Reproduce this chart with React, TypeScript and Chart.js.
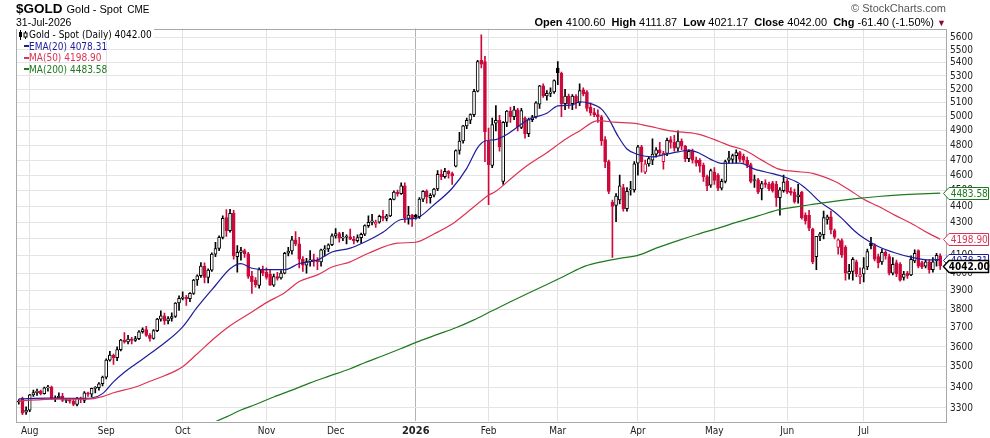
import React, { useEffect, useRef } from 'react';
import { Chart, registerables } from 'chart.js';

Chart.register(...registerables);

const FONT = "'DejaVu Sans Condensed', 'DejaVu Sans', sans-serif";
const HFONT = "'Liberation Sans', Arial, sans-serif";

const RED = '#cc0a3c';
const BLACK = '#000000';
const EMA_COLOR = '#1d1d9b';
const MA50_COLOR = '#dd3355';
const MA200_COLOR = '#1e7a1e';

// x-axis: trading-day index; first trading day of each month
const monthStarts = [3, 24, 45, 68, 87, 109, 129, 148, 170, 191, 211, 232];
const monthLabels = ['Aug', 'Sep', 'Oct', 'Nov', 'Dec', '2026', 'Feb', 'Mar', 'Apr', 'May', 'Jun', 'Jul'];
const yTicks = [3300, 3400, 3500, 3600, 3700, 3800, 3900, 4000, 4100, 4200, 4300, 4400, 4500, 4600, 4700, 4800, 4900, 5000, 5100, 5200, 5300, 5400, 5500, 5600];

// Daily OHLC, 29-Jul-2025 .. 31-Jul-2026 (one line per month)
const opens = [
  3328, 3345, 3280,
  3290, 3362, 3373, 3380, 3368, 3396, 3400, 3343, 3348, 3356, 3335, 3338, 3332, 3316, 3347, 3335, 3372, 3365, 3393, 3397, 3416,
  3448, 3533, 3559, 3545, 3586, 3636, 3626, 3641, 3634, 3643, 3679, 3690, 3660, 3644, 3685, 3746, 3763, 3736, 3749, 3760, 3833,
  3858, 3866, 3857, 3886, 3961, 3985, 4040, 3976, 4017, 4110, 4143, 4209, 4330, 4250, 4356, 4095, 4120, 4130, 4112, 3981, 3960, 3930, 4020,
  4005, 3995, 3932, 3980, 3972, 4000, 4115, 4128, 4194, 4170, 4080, 4045, 4066, 4077, 4072, 4065, 4135, 4140, 4165,
  4218, 4232, 4205, 4210, 4212, 4198, 4189, 4208, 4228, 4280, 4300, 4290, 4302, 4338, 4325, 4340, 4444, 4490, 4480, 4530, 4325, 4345,
  4345, 4335, 4445, 4495, 4455, 4470, 4510, 4605, 4590, 4625, 4610, 4660, 4765, 4830, 4935, 4975, 5015, 5185, 5420, 5410,
  4830, 4665, 4955, 4975, 4560, 4960, 5040, 5000, 5050, 4925, 4990, 4880, 4980, 5000, 5090, 5225, 5150, 5170, 5180,
  5360, 5320, 5095, 5150, 5095, 5150, 5100, 5195, 5180, 5070, 5030, 5015, 5000, 4840, 4690, 4425, 4405, 4440, 4520, 4385, 4505, 4505,
  4680, 4790, 4620, 4675, 4700, 4740, 4770, 4690, 4745, 4840, 4820, 4780, 4830, 4795, 4710, 4760, 4700, 4700, 4665, 4590, 4535,
  4620, 4600, 4515, 4560, 4700, 4705, 4730, 4750, 4725, 4700, 4670, 4565, 4570, 4510, 4550, 4540, 4550, 4540, 4455, 4500,
  4560, 4495, 4490, 4460, 4490, 4345, 4345, 4260, 4095, 4215, 4225, 4318, 4335, 4250, 4150, 4190, 4150, 3995, 4010, 4065, 3978,
  3995, 4035, 4175, 4160, 4095, 4065, 4120, 4095, 4000, 4060, 4050, 3975, 4000, 3990, 4070, 4130, 4060, 4040, 4065, 4020, 4070, 4100.6,
];
const highs = [
  3340, 3352, 3305,
  3365, 3385, 3390, 3385, 3400, 3408, 3404, 3358, 3372, 3370, 3346, 3345, 3340, 3350, 3352, 3378, 3376, 3395, 3402, 3422, 3453,
  3540, 3578, 3563, 3600, 3640, 3674, 3660, 3650, 3655, 3685, 3700, 3707, 3670, 3690, 3750, 3790, 3778, 3760, 3780, 3835, 3872,
  3895, 3875, 3890, 3965, 3990, 4060, 4059, 4025, 4118, 4180, 4218, 4340, 4380, 4381, 4375, 4160, 4150, 4140, 4120, 4010, 3975, 4030, 4040,
  4030, 4020, 3995, 4005, 4015, 4120, 4150, 4215, 4245, 4210, 4095, 4085, 4130, 4110, 4090, 4140, 4160, 4170, 4230,
  4262, 4240, 4240, 4225, 4260, 4215, 4225, 4235, 4285, 4340, 4350, 4315, 4345, 4375, 4350, 4450, 4498, 4503, 4550, 4550, 4400, 4350,
  4350, 4455, 4500, 4505, 4480, 4515, 4630, 4635, 4645, 4630, 4620, 4770, 4890, 4940, 4990, 5020, 5200, 5420, 5620, 5450,
  4920, 4990, 5080, 5010, 4965, 5045, 5070, 5075, 5060, 5060, 5000, 4990, 5010, 5110, 5230, 5240, 5190, 5210, 5270,
  5410, 5330, 5200, 5165, 5160, 5160, 5240, 5210, 5190, 5100, 5060, 5050, 5010, 4860, 4700, 4440, 4480, 4600, 4540, 4520, 4560, 4690,
  4800, 4800, 4700, 4720, 4845, 4785, 4820, 4760, 4850, 4860, 4870, 4900, 4845, 4800, 4770, 4775, 4720, 4710, 4680, 4600, 4640,
  4650, 4610, 4575, 4700, 4760, 4740, 4770, 4760, 4740, 4720, 4680, 4600, 4580, 4560, 4570, 4555, 4560, 4560, 4520, 4600,
  4575, 4520, 4510, 4540, 4495, 4360, 4375, 4265, 4215, 4240, 4370, 4345, 4370, 4260, 4200, 4200, 4160, 4050, 4090, 4075, 4030,
  4090, 4140, 4210, 4170, 4110, 4140, 4130, 4110, 4090, 4075, 4060, 4010, 4010, 4100, 4135, 4135, 4070, 4075, 4075, 4090, 4115, 4111.87,
];
const lows = [
  3318, 3268, 3270,
  3282, 3355, 3360, 3362, 3365, 3380, 3340, 3330, 3345, 3330, 3325, 3322, 3311, 3310, 3325, 3325, 3355, 3352, 3372, 3385, 3405,
  3440, 3528, 3511, 3530, 3580, 3620, 3615, 3615, 3628, 3638, 3672, 3655, 3630, 3640, 3680, 3735, 3718, 3720, 3735, 3755, 3792,
  3850, 3820, 3840, 3880, 3930, 3975, 3945, 3945, 4010, 4095, 4130, 4200, 4215, 4240, 4080, 4005, 4075, 4090, 3970, 3886, 3920, 3915, 3985,
  3965, 3930, 3925, 3960, 3965, 3995, 4100, 4110, 4160, 4030, 4010, 4000, 4040, 4040, 4020, 4040, 4100, 4125, 4160,
  4205, 4180, 4190, 4170, 4195, 4170, 4180, 4175, 4220, 4270, 4285, 4270, 4295, 4310, 4310, 4335, 4440, 4465, 4475, 4300, 4290, 4275,
  4320, 4325, 4430, 4420, 4420, 4460, 4500, 4570, 4580, 4580, 4540, 4655, 4740, 4815, 4915, 4950, 5000, 5180, 5360, 4690,
  4410, 4650, 4900, 4760, 4540, 4930, 4960, 4980, 4900, 4915, 4850, 4860, 4965, 4990, 5060, 5140, 5120, 5145, 5170,
  5235, 5000, 5050, 5060, 5050, 5060, 5080, 5150, 5040, 5010, 5000, 4960, 4800, 4650, 4480, 4090, 4305, 4415, 4370, 4370, 4470, 4490,
  4600, 4620, 4610, 4660, 4670, 4720, 4730, 4640, 4730, 4780, 4760, 4760, 4770, 4690, 4690, 4680, 4660, 4620, 4560, 4500, 4520,
  4540, 4500, 4505, 4550, 4680, 4680, 4680, 4690, 4680, 4650, 4550, 4520, 4480, 4440, 4520, 4500, 4490, 4400, 4345, 4490,
  4480, 4470, 4420, 4420, 4320, 4290, 4250, 4055, 4020, 4190, 4200, 4290, 4230, 4200, 4110, 4090, 3960, 3965, 3960, 3980, 3940,
  3950, 4020, 4140, 4070, 4030, 4050, 4080, 3990, 3990, 3980, 3955, 3960, 3970, 3985, 4060, 4030, 4025, 4030, 4000, 4005, 4040, 4021.17,
];
const closes = [
  3330, 3275, 3290,
  3362, 3373, 3380, 3368, 3396, 3400, 3345, 3348, 3356, 3335, 3338, 3332, 3316, 3347, 3340, 3372, 3365, 3393, 3397, 3416, 3448,
  3533, 3559, 3545, 3586, 3636, 3626, 3641, 3634, 3643, 3679, 3690, 3660, 3644, 3685, 3746, 3763, 3736, 3749, 3760, 3833, 3858,
  3866, 3857, 3886, 3961, 3985, 4040, 3976, 4017, 4110, 4143, 4209, 4326, 4250, 4356, 4100, 4120, 4130, 4112, 3981, 3952, 3935, 4020, 4000,
  3975, 3932, 3980, 3970, 4000, 4115, 4128, 4194, 4170, 4080, 4045, 4066, 4077, 4072, 4065, 4135, 4140, 4165, 4218,
  4232, 4205, 4210, 4212, 4198, 4189, 4208, 4228, 4280, 4300, 4310, 4302, 4338, 4325, 4340, 4444, 4490, 4480, 4530, 4330, 4345, 4325,
  4332, 4445, 4495, 4460, 4470, 4510, 4605, 4590, 4625, 4610, 4595, 4765, 4830, 4935, 4975, 5015, 5185, 5410, 5390, 4895,
  4670, 4945, 4975, 4790, 4960, 5040, 5000, 5050, 4930, 5045, 4880, 4980, 5000, 5100, 5225, 5150, 5170, 5180, 5265,
  5325, 5095, 5150, 5095, 5150, 5100, 5190, 5165, 5060, 5030, 5015, 5000, 4830, 4690, 4495, 4400, 4465, 4530, 4385, 4495, 4510, 4675,
  4790, 4690, 4675, 4710, 4740, 4770, 4750, 4745, 4835, 4820, 4780, 4830, 4795, 4710, 4760, 4700, 4680, 4660, 4590, 4530, 4630,
  4565, 4515, 4560, 4690, 4715, 4730, 4750, 4705, 4700, 4670, 4560, 4570, 4490, 4545, 4540, 4510, 4500, 4455, 4505, 4555,
  4490, 4485, 4430, 4472, 4330, 4310, 4265, 4065, 4215, 4230, 4330, 4335, 4255, 4210, 4195, 4105, 4000, 4010, 4080, 3995, 3992,
  4030, 4125, 4160, 4080, 4060, 4120, 4100, 4000, 4050, 3995, 3960, 3995, 3985, 4080, 4115, 4040, 4035, 4065, 4020, 4065, 4103.4, 4042,
];

// Indicator lines: [trading-day index, value]
const ema20 = [
  [0, 3343], [8, 3346], [17, 3345], [20, 3347], [23, 3368], [26, 3425], [29, 3472], [32, 3512], [36, 3565], [40, 3620],
  [45, 3705], [49, 3810], [54, 3930], [58, 4025], [61, 4055], [64, 4028], [68, 4020], [73, 4020], [77, 4055], [82, 4075],
  [86, 4122], [91, 4145], [96, 4192], [100, 4240], [105, 4318], [109, 4325], [114, 4410], [119, 4515], [123, 4645], [126, 4785],
  [128, 4830], [131, 4840], [134, 4875], [136, 4910], [140, 4980], [145, 5025], [148, 5078], [152, 5085], [154, 5108], [157, 5095],
  [160, 5055], [162, 4985], [164.5, 4865], [167, 4775], [170, 4738], [174, 4722], [177, 4735], [181, 4755], [184, 4768], [187, 4745],
  [190, 4705], [193, 4678], [198, 4680], [202, 4640], [207, 4610], [210, 4590], [214, 4550], [217, 4495], [220, 4428], [224, 4365],
  [226, 4325], [229.5, 4248], [232, 4205], [236, 4155], [240.5, 4118], [245, 4092], [250, 4076], [253, 4078.31],
];
const ma50 = [
  [0, 3333], [10, 3342], [19, 3342], [23, 3354], [26, 3372], [32, 3400], [36, 3428], [40, 3455], [45, 3500], [49, 3565],
  [54, 3650], [58, 3710], [64, 3784], [68, 3835], [73, 3890], [77, 3952], [82, 3990], [86, 4035], [91, 4065], [96, 4115],
  [104, 4175], [109, 4180], [114, 4230], [119, 4290], [123, 4360], [129, 4470], [131, 4495], [136, 4595], [140, 4670], [145, 4750],
  [150, 4840], [154, 4900], [159, 4972], [163.5, 4962], [170, 4950], [175, 4922], [179, 4900], [186.5, 4878], [192.5, 4825], [195, 4800],
  [199.5, 4765], [204, 4700], [208.5, 4642], [213, 4625], [218, 4612], [224, 4560], [228, 4505], [232, 4445], [236, 4400], [240.5, 4345],
  [245, 4295], [249.7, 4235], [253, 4198.9],
];
const ma200 = [
  [52, 3222], [54, 3236], [57, 3258], [61, 3290], [65, 3316], [70, 3352], [75, 3385], [80, 3420], [85, 3452], [91, 3490],
  [95, 3520], [100, 3555], [105, 3592], [110, 3630], [115, 3665], [120, 3700], [125, 3742], [129.4, 3785], [135, 3840], [140, 3888],
  [145, 3936], [150, 3985], [155.5, 4040], [160, 4065], [165, 4085], [170, 4103], [175, 4145], [181, 4190], [186, 4225], [192.5, 4268],
  [197, 4300], [203, 4340], [208.5, 4378], [213, 4395], [217.3, 4410], [223.3, 4430], [230.5, 4450], [236, 4462], [242, 4472], [248, 4479],
  [253, 4483.58],
];

const lastClose = 4042.0;
const lastEma = 4078.31;
const lastMa50 = 4198.9;
const lastMa200 = 4483.58;

const framePlugin = {
  id: 'frame',
  afterDatasetsDraw(chart: any) {
    const { ctx, chartArea } = chart;
    ctx.save();
    ctx.strokeStyle = '#a8a8a8';
    ctx.lineWidth = 1;
    ctx.strokeRect(Math.round(chartArea.left) + 0.5, Math.round(chartArea.top) + 0.5,
      Math.round(chartArea.right - chartArea.left), Math.round(chartArea.bottom - chartArea.top));
    ctx.restore();
  },
};

const tagPlugin = {
  id: 'tags',
  afterDraw(chart: any) {
    const { ctx, chartArea } = chart;
    const ys = chart.scales.y;
    const tags = [
      { v: lastMa200, color: MA200_COLOR, bold: false },
      { v: lastMa50, color: MA50_COLOR, bold: false },
      { v: lastEma, color: EMA_COLOR, bold: false },
      { v: lastClose, color: BLACK, bold: true },
    ];
    ctx.save();
    tags.forEach((t) => {
      const py = Math.round(ys.getPixelForValue(t.v)) + 0.5;
      const x0 = chartArea.right - 2.5;
      const x1 = x0 + 5.5;
      const x2 = 988.5;
      const h = 12;
      ctx.beginPath();
      ctx.moveTo(x0, py);
      ctx.lineTo(x1, py - h / 2);
      ctx.lineTo(x2, py - h / 2);
      ctx.lineTo(x2, py + h / 2);
      ctx.lineTo(x1, py + h / 2);
      ctx.closePath();
      ctx.fillStyle = '#ffffff';
      ctx.fill();
      ctx.strokeStyle = t.color;
      ctx.lineWidth = t.bold ? 1.5 : 1;
      ctx.stroke();
      ctx.fillStyle = t.color;
      ctx.font = (t.bold ? 'bold ' : '') + '10px ' + FONT;
      ctx.textAlign = 'center';
      ctx.textBaseline = 'middle';
      ctx.fillText(t.v.toFixed(2), (x1 + x2) / 2 + 0.5, py + 0.5);
    });
    ctx.restore();
  },
};

export default function App() {
  const ref = useRef<HTMLCanvasElement>(null);

  useEffect(() => {
    const canvas = ref.current;
    if (!canvas) return;
    const candleColor = closes.map((c, i) => ((i === 0 ? c >= opens[i] : c >= closes[i - 1]) ? BLACK : RED));
    const bodyFill = closes.map((c, i) => (c > opens[i] ? '#ffffff' : candleColor[i]));
    const toXY = (arr: number[][]) => arr.map((p) => ({ x: p[0], y: p[1] }));

    const chart = new Chart(canvas, {
      type: 'bar',
      data: {
        datasets: [
          {
            type: 'line',
            label: 'MA(200)',
            data: toXY(ma200),
            borderColor: MA200_COLOR,
            borderWidth: 1.2,
            pointRadius: 0,
            cubicInterpolationMode: 'monotone',
            order: 0,
          },
          {
            type: 'line',
            label: 'MA(50)',
            data: toXY(ma50),
            borderColor: MA50_COLOR,
            borderWidth: 1.2,
            pointRadius: 0,
            cubicInterpolationMode: 'monotone',
            order: 0,
          },
          {
            type: 'line',
            label: 'EMA(20)',
            data: toXY(ema20),
            borderColor: EMA_COLOR,
            borderWidth: 1.2,
            pointRadius: 0,
            cubicInterpolationMode: 'monotone',
            order: 0,
          },
          {
            type: 'bar',
            label: 'body',
            data: opens.map((o, i) => ({ x: i, y: [o, closes[i]] })),
            backgroundColor: bodyFill,
            borderColor: candleColor,
            borderWidth: 1,
            borderSkipped: false,
            barThickness: 3,
            minBarLength: 1,
            grouped: false,
            order: 2,
          },
          {
            type: 'bar',
            label: 'wick',
            data: lows.map((l, i) => ({ x: i, y: [l, highs[i]] })),
            backgroundColor: candleColor,
            borderWidth: 0,
            barThickness: 1,
            grouped: false,
            order: 3,
          },
        ] as any,
      },
      options: {
        animation: false,
        responsive: false,
        layout: { padding: { left: 16, top: 28.5, right: 0, bottom: 0 } },
        plugins: { legend: { display: false }, tooltip: { enabled: false } },
        scales: {
          x: {
            type: 'linear',
            min: -0.77,
            max: 254.6,
            offset: false,
            afterBuildTicks: (s: any) => {
              s.ticks = monthStarts.map((v) => ({ value: v }));
            },
            afterFit: (s: any) => {
              s.height = 17;
            },
            grid: {
              offset: false,
              drawTicks: false,
              color: (c: any) => (c.tick && c.tick.value === 109 ? '#b4b4b4' : '#e2e2e2'),
            },
            border: { display: false },
            ticks: {
              autoSkip: false,
              maxRotation: 0,
              padding: 4,
              color: '#222',
              font: (c: any) => ({
                family: FONT,
                size: c.tick && c.tick.value === 109 ? 11 : 10,
                weight: c.tick && c.tick.value === 109 ? 'bold' : 'normal',
              }),
              callback: (v: any) => {
                const k = monthStarts.indexOf(Number(v));
                return k >= 0 ? monthLabels[k] : '';
              },
            },
          },
          y: {
            type: 'logarithmic',
            position: 'right',
            min: 3239,
            max: 5671,
            afterBuildTicks: (s: any) => {
              s.ticks = yTicks.map((v) => ({ value: v }));
            },
            afterFit: (s: any) => {
              s.width = 44;
            },
            grid: { drawTicks: false, color: '#e4e4e4' },
            border: { display: false },
            ticks: {
              padding: 4,
              color: '#222',
              font: { family: FONT, size: 10 },
              callback: (v: any) => String(v),
            },
          },
        },
      } as any,
      plugins: [framePlugin, tagPlugin],
    });
    return () => chart.destroy();
  }, []);

  const legendRow = (color: string, text: string) => (
    <div style={{ display: 'flex', alignItems: 'center', height: 11.5, color }}>
      <span style={{ display: 'inline-block', width: 5, height: 2, background: color, marginLeft: 7, marginRight: 0 }} />
      <span>{text}</span>
    </div>
  );

  return (
    <div style={{ position: 'absolute', left: 0, top: 0, width: 990, height: 438, background: '#fff', overflow: 'hidden' }}>
      <canvas ref={ref} width={990} height={438} style={{ position: 'absolute', left: 0, top: 0, width: 990, height: 438 }} />
      <div style={{ position: 'absolute', left: 16, top: 0, fontFamily: HFONT, whiteSpace: 'nowrap', lineHeight: '16px', color: '#000' }}>
        <span style={{ fontWeight: 'bold', fontSize: 13.5 }}>$GOLD</span>
        <span style={{ fontSize: 11, marginLeft: 4 }}>Gold - Spot</span>
        <span style={{ fontSize: 10, marginLeft: 5 }}>CME</span>
      </div>
      <div style={{ position: 'absolute', left: 16, top: 16, fontFamily: HFONT, fontSize: 10.5, lineHeight: '12px', color: '#000' }}>31-Jul-2026</div>
      <div style={{ position: 'absolute', right: 44, top: 1, fontFamily: HFONT, fontSize: 11, lineHeight: '14px', color: '#555', whiteSpace: 'nowrap' }}>
        © StockCharts.com
      </div>
      <div style={{ position: 'absolute', right: 44, top: 14.5, fontFamily: HFONT, fontSize: 11, lineHeight: '14px', color: '#000', whiteSpace: 'pre' }}>
        <b>Open</b> 4100.60  <b>High</b> 4111.87  <b>Low</b> 4021.17  <b>Close</b> 4042.00  <b>Chg</b> -61.40 (-1.50%) <span style={{ color: '#8b0a2a', fontSize: 9 }}>▼</span>
      </div>
      <div style={{ position: 'absolute', left: 17, top: 29, fontFamily: FONT, fontSize: 10, lineHeight: '11.5px', whiteSpace: 'nowrap' }}>
        <div style={{ display: 'flex', alignItems: 'center', height: 11.5, color: '#000', background: '#fff', paddingRight: 2, width: 'max-content' }}>
          <svg width="12" height="10" style={{ marginRight: 0 }}>
            <line x1="3.5" y1="0" x2="3.5" y2="10" stroke="#000" strokeWidth="1" />
            <rect x="2" y="2" width="3" height="5" fill="#000" />
            <line x1="8.5" y1="1" x2="8.5" y2="9" stroke="#000" strokeWidth="1" />
            <rect x="7" y="3" width="3" height="4" fill="#fff" stroke="#000" strokeWidth="1" />
          </svg>
          <span>Gold - Spot (Daily) 4042.00</span>
        </div>
        {legendRow(EMA_COLOR, 'EMA(20) 4078.31')}
        {legendRow(MA50_COLOR, 'MA(50) 4198.90')}
        {legendRow(MA200_COLOR, 'MA(200) 4483.58')}
      </div>
    </div>
  );
}
